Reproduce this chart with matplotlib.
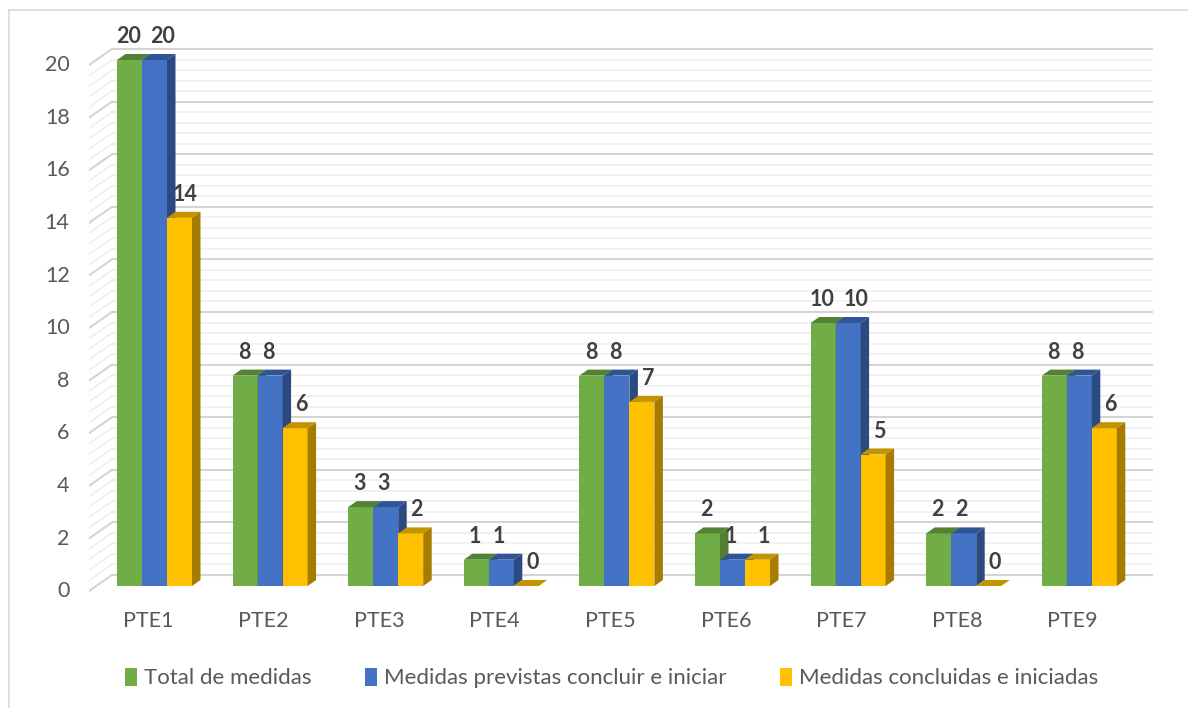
import matplotlib
matplotlib.use("Agg")
import matplotlib.pyplot as plt
from matplotlib.patches import Polygon, Patch
from matplotlib.lines import Line2D
import matplotlib.transforms as mtransforms
import numpy as np

plt.rcParams['font.family'] = ['Lato', 'DejaVu Sans']

categories = ["PTE1", "PTE2", "PTE3", "PTE4", "PTE5", "PTE6", "PTE7", "PTE8", "PTE9"]
series_names = ["Total de medidas", "Medidas previstas concluir e iniciar", "Medidas concluidas e iniciadas"]
total = [20, 8, 3, 1, 8, 2, 10, 2, 8]
previstas = [20, 8, 3, 1, 8, 1, 10, 2, 8]
concluidas = [14, 6, 2, 0, 7, 1, 5, 0, 6]
yticks = list(range(0, 21, 2))

front_colors = ["#70AD47", "#4472C4", "#FFC000"]
top_colors = ["#548235", "#2F5597", "#C49300"]
side_colors = ["#507E32", "#2B4A80", "#A67C00"]

W, H = 1188, 708
fig = plt.figure(figsize=(W / 100, H / 100), dpi=100)

# pixel geometry
px_left, px_right = 89, 1153
px_top, px_bot = 30, 600
x0_px, x_step = 154.5, 115.6      # first category center, spacing
y0_px, y_step = 586.0, 26.3       # value 0 front, px per unit

ax = fig.add_axes([px_left / W, (H - px_bot) / H, (px_right - px_left) / W, (px_bot - px_top) / H])
ax.set_xlim((px_left - x0_px) / x_step, (px_right - x0_px) / x_step)
ax.set_ylim((y0_px - px_bot) / y_step, (y0_px - px_top) / y_step)
for s in ax.spines.values():
    s.set_visible(False)

# 3D wall geometry (data units)
wall_dy = 11 / y_step
side_front_dy = -5 / y_step
x_side_front = (89 - x0_px) / x_step
x_wall = (112 - x0_px) / x_step
x_right = (px_right - x0_px) / x_step

for k in range(0, 51):
    v = 0.4 * k
    major = (k % 5 == 0)
    col = "#D4D4D4" if major else "#EDEDED"
    lw = 1.5 if major else 1.1
    ax.plot([x_wall, x_right], [v + wall_dy, v + wall_dy], color=col, lw=lw, zorder=1, solid_capstyle='butt')
    ax.plot([x_side_front, x_wall], [v + side_front_dy, v + wall_dy], color=col, lw=lw, zorder=1)

bw = 25 / x_step
ddx = 8.5 / x_step
ddy = 6 / y_step
series = [total, previstas, concluidas]
x = np.arange(len(categories))
label_shift_px = [-1, -2, 6]   # base horizontal nudges of value labels per series
z = 3
for i in range(len(categories)):
    label_px = []
    for j, vals in enumerate(series):
        v = vals[i]
        xl = i - 1.5 * bw + j * bw
        xr = xl + bw
        ax.bar(xl, v, width=bw, align='edge', color=front_colors[j], edgecolor='none', zorder=z)
        top = Polygon([(xl, v), (xr, v), (xr + ddx, v + ddy), (xl + ddx, v + ddy)],
                      closed=True, facecolor=top_colors[j], edgecolor='none', zorder=z)
        side = Polygon([(xr, 0), (xr + ddx, ddy), (xr + ddx, v + ddy), (xr, v)],
                       closed=True, facecolor=side_colors[j], edgecolor='none', zorder=z)
        ax.add_patch(top)
        ax.add_patch(side)
        z += 1
        # label x position (pixels), nudged away from the previous label when at similar height
        pos = (xl + bw / 2) * x_step + label_shift_px[j]
        if j > 0:
            pv = series[j - 1][i]
            if abs(pv - v) < 1.0:
                need = 0.5 * 11.5 * (len(str(pv)) + len(str(v))) + 11
                if j == 2:
                    need += 6
                prev_pos = label_px[-1]
                if pos - prev_pos < need:
                    pos = prev_pos + need
        label_px.append(pos)
    for j, vals in enumerate(series):
        v = vals[i]
        xl = i - 1.5 * bw + j * bw
        off = label_px[j] - (xl + bw / 2) * x_step
        ax.annotate(str(v), xy=(xl + bw / 2, v + ddy), xytext=(off, 7),
                    textcoords='offset pixels', ha='center', va='bottom',
                    fontsize=15.5, fontweight='bold', color='#404040', zorder=20)

ax.set_yticks([t - 0.12 for t in yticks])
ax.set_yticklabels([str(t) for t in yticks])
ax.set_xticks(x)
ax.set_xticklabels(categories)
ax.tick_params(axis='y', length=0, pad=14, labelsize=15.5, labelcolor='#595959')
ax.tick_params(axis='x', length=0, pad=8, labelsize=15.5, labelcolor='#595959')
shift = mtransforms.ScaledTranslation(-6.5 / 100, 0, fig.dpi_scale_trans)
for lab in ax.get_xticklabels():
    lab.set_transform(lab.get_transform() + shift)

handles = [Patch(facecolor=c, edgecolor='none') for c in front_colors]
leg = fig.legend(handles, series_names, loc='center', bbox_to_anchor=(611.5 / W, (H - 678) / H),
                 ncol=3, frameon=False, fontsize=16, handlelength=0.55, handleheight=0.9,
                 handletextpad=0.3, columnspacing=2.4)
for t in leg.get_texts():
    t.set_color('#595959')

# chart area border (left and top visible)
fig.add_artist(Line2D([9 / W, 9 / W], [0, (H - 10) / H], color='#D9D9D9', lw=1.2))
fig.add_artist(Line2D([9 / W, 1], [(H - 10) / H, (H - 10) / H], color='#D9D9D9', lw=1.2))

fig.savefig("out.png", dpi=100)
